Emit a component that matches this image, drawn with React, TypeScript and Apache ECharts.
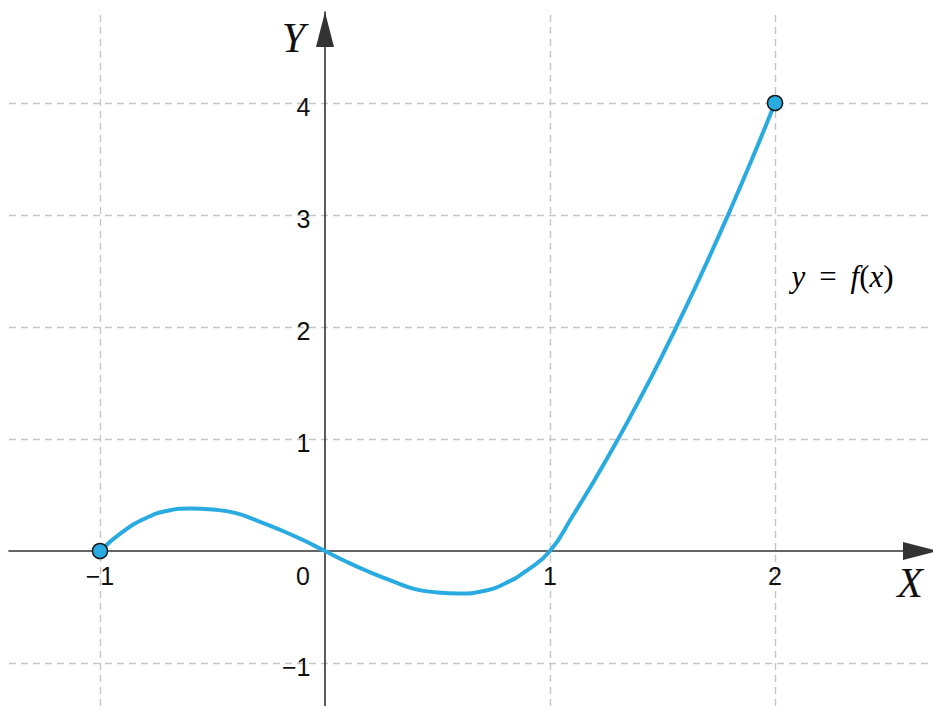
import React, { useEffect, useRef } from 'react';
import * as echarts from 'echarts';

// Curve y = f(x)
const CURVE_X = [-1, -0.9, -0.8, -0.7, -0.6, -0.5, -0.4, -0.3, -0.2, -0.1, 0, 0.1, 0.2, 0.3, 0.4, 0.5, 0.6, 0.7, 0.8, 0.9, 1, 1.1, 1.2, 1.3, 1.4, 1.5, 1.6, 1.7, 1.8, 1.9, 2];
const CURVE_Y = [0, 0.17, 0.29, 0.36, 0.38, 0.37, 0.34, 0.27, 0.19, 0.1, 0, -0.1, -0.19, -0.27, -0.34, -0.37, -0.38, -0.36, -0.29, -0.17, 0, 0.31, 0.64, 0.99, 1.36, 1.75, 2.16, 2.59, 3.04, 3.51, 4];

// End points (filled circles)
const ENDPOINT_X = [-1, 2];
const ENDPOINT_Y = [0, 4];

// Ticks and dashed grid lines
const X_TICKS = [-1, 0, 1, 2];
const Y_TICKS = [-1, 1, 2, 3, 4];
const GRID_X = [-1, 1, 2];
const GRID_Y = [-1, 1, 2, 3, 4];

// Visible ranges
const X_RANGE = [-1.4044, 2.7022];
const Y_RANGE = [-1.3839, 4.8125];

// Annotations (data coordinates)
const CURVE_LABEL_AT = [2.3, 2.45];
const X_NAME_AT = [2.6, -0.29];

const fmt = (v: number) => (v < 0 ? '\u2212' + Math.abs(v) : String(v));

export default function App() {
  const ref = useRef<HTMLDivElement>(null);

  useEffect(() => {
    if (!ref.current) return;
    const chart = echarts.init(ref.current, undefined, { renderer: 'svg' });

    const tickFont = { fontSize: 25, fontFamily: 'Liberation Sans, Arial, sans-serif', color: '#111' };
    const nameFont = { fontFamily: 'Liberation Serif, Times New Roman, serif', fontStyle: 'italic', fontSize: 42, color: '#111' };
    const axisLineStyle = { color: '#333', width: 1.6 };
    const hidden = { color: 'rgba(0,0,0,0)', opacity: 1 };

    const option: any = {
      animation: false,
      backgroundColor: '#ffffff',
      grid: { left: 9, right: 0, top: 12, bottom: 0, containLabel: false, outerBoundsMode: 'none' },
      xAxis: {
        type: 'value',
        min: X_RANGE[0],
        max: X_RANGE[1],
        z: 3,
        axisLine: {
          show: true,
          onZero: true,
          symbol: ['none', 'triangle'],
          symbolSize: [18, 35],
          symbolOffset: [0, -12.5],
          lineStyle: axisLineStyle,
        },
        axisTick: { show: false },
        splitLine: { show: false },
        axisLabel: { show: false },
      },
      yAxis: {
        type: 'value',
        min: Y_RANGE[0],
        max: Y_RANGE[1],
        z: 3,
        name: 'Y',
        nameLocation: 'end',
        nameGap: -26,
        nameMoveOverlap: false,
        nameTextStyle: { ...nameFont, align: 'right', verticalAlign: 'middle', padding: [0, 20, 0, 0] },
        axisLine: {
          show: true,
          onZero: true,
          symbol: ['none', 'triangle'],
          symbolSize: [18, 35],
          symbolOffset: [0, -17.5],
          lineStyle: axisLineStyle,
        },
        axisTick: { show: false },
        splitLine: { show: false },
        axisLabel: { show: false },
      },
      series: [
        {
          type: 'line',
          data: [],
          z: 1,
          silent: true,
          markLine: {
            z: 1,
            silent: true,
            symbol: ['none', 'none'],
            label: { show: false },
            lineStyle: { color: '#c6c6c6', type: [7, 5], width: 1.4 },
            emphasis: { disabled: true },
            data: [...GRID_X.map((v) => ({ xAxis: v })), ...GRID_Y.map((v) => ({ yAxis: v }))],
          },
        },
        {
          type: 'line',
          z: 4,
          data: CURVE_X.map((x, i) => [x, CURVE_Y[i]]),
          smooth: true,
          showSymbol: false,
          silent: true,
          lineStyle: { color: '#29abe2', width: 4 },
        },
        {
          type: 'scatter',
          z: 5,
          data: ENDPOINT_X.map((x, i) => [x, ENDPOINT_Y[i]]),
          symbolSize: 15,
          silent: true,
          itemStyle: { color: '#29abe2', borderColor: '#1a1a1a', borderWidth: 1.5, opacity: 1 },
        },
        // x tick labels
        {
          type: 'scatter',
          z: 6,
          silent: true,
          symbolSize: 1,
          itemStyle: hidden,
          data: X_TICKS.map((v) => ({
            value: [v, 0],
            label: v === 0 ? { offset: [-22, 0] } : undefined,
          })),
          label: {
            show: true,
            position: 'bottom',
            distance: 12,
            formatter: (p: any) => fmt(p.value[0]),
            ...tickFont,
          },
        },
        // y tick labels
        {
          type: 'scatter',
          z: 6,
          silent: true,
          symbolSize: 1,
          itemStyle: hidden,
          data: Y_TICKS.map((v) => [0, v]),
          label: {
            show: true,
            position: 'left',
            distance: 14,
            offset: [0, 4],
            formatter: (p: any) => fmt(p.value[1]),
            ...tickFont,
          },
        },
        // X axis name
        {
          type: 'scatter',
          z: 6,
          silent: true,
          symbolSize: 1,
          itemStyle: hidden,
          data: [X_NAME_AT],
          label: { show: true, position: 'inside', formatter: 'X', ...nameFont },
        },
        // curve annotation
        {
          type: 'scatter',
          z: 6,
          data: [CURVE_LABEL_AT],
          symbolSize: 1,
          silent: true,
          itemStyle: hidden,
          label: {
            show: true,
            position: 'inside',
            formatter: '{i|y}{e|=}{i|f}{r|(}{i|x}{r|)}',
            rich: {
              i: { fontFamily: 'Liberation Serif, serif', fontStyle: 'italic', fontSize: 31, color: '#000' },
              r: { fontFamily: 'Liberation Serif, serif', fontSize: 31, color: '#000' },
              e: { fontFamily: 'Liberation Serif, serif', fontSize: 31, color: '#000', padding: [0, 14, 0, 14] },
            },
          },
        },
      ],
    };

    chart.setOption(option);
    return () => chart.dispose();
  }, []);

  return (
    <div
      ref={ref}
      style={{ position: 'absolute', left: 0, top: 0, width: 933, height: 706, background: '#fff' }}
    />
  );
}
